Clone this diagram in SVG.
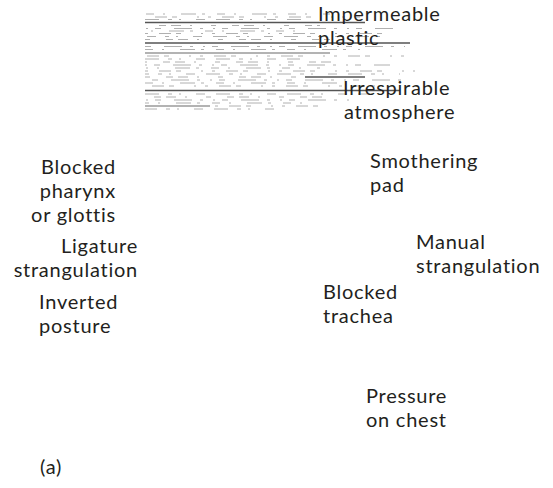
<svg xmlns="http://www.w3.org/2000/svg" width="553" height="488" viewBox="0 0 553 488">
<style>
.t{font-family:Lato,"Open Sans","Liberation Sans",sans-serif;font-size:20px;letter-spacing:0.75px;fill:#231f20}
.r{text-anchor:end}
.h{stroke:#b0b0b0;stroke-width:1;fill:none}
.d{stroke:#555;stroke-width:1.3;fill:none}
.g{stroke:#9a9a9a;stroke-width:1.6;fill:none}
</style>
<rect width="553" height="488" fill="#fff"/>
<g id="hatch">
<line class="h" x1="146" y1="14" x2="330" y2="14" stroke-dasharray="8 9 2 16 15 6 3 12"/>
<line class="h" x1="145" y1="17" x2="360" y2="17" stroke-dasharray="3 11 12 5 5 20 2 9" stroke-dashoffset="4"/>
<line class="h" x1="145" y1="19.5" x2="310" y2="19.5" stroke-dasharray="14 9 4 7 2 15 9 11"/>
<line class="d" x1="145" y1="22.5" x2="365" y2="22.5"/>
<line class="h" x1="145" y1="25.5" x2="320" y2="25.5" stroke-dasharray="5 16 7 5 10 9 2 19" stroke-dashoffset="7"/>
<line class="h" x1="146" y1="28.5" x2="395" y2="28.5" stroke-dasharray="2 7 6 13 18 8 3 10"/>
<line class="h" x1="145" y1="31" x2="300" y2="31" stroke-dasharray="8 9 2 16 15 6 3 12" stroke-dashoffset="11"/>
<line class="h" x1="145" y1="33.5" x2="400" y2="33.5" stroke-dasharray="3 11 12 5 5 20 2 9"/>
<line class="h" x1="147" y1="36.5" x2="380" y2="36.5" stroke-dasharray="14 9 4 7 2 15 9 11" stroke-dashoffset="5"/>
<line class="h" x1="145" y1="39.5" x2="330" y2="39.5" stroke-dasharray="5 16 7 5 10 9 2 19"/>
<line class="d" x1="145" y1="43" x2="410" y2="43"/>
<line class="h" x1="145" y1="46.5" x2="405" y2="46.5" stroke-dasharray="2 7 6 13 18 8 3 10" stroke-dashoffset="9"/>
<line class="h" x1="145" y1="49.5" x2="360" y2="49.5" stroke-dasharray="8 9 2 16 15 6 3 12"/>
<line class="g" x1="145" y1="53" x2="330" y2="53"/>
<line class="h" x1="146" y1="56" x2="410" y2="56" stroke-dasharray="3 11 12 5 5 20 2 9" stroke-dashoffset="13"/>
<line class="h" x1="145" y1="59" x2="300" y2="59" stroke-dasharray="14 9 4 7 2 15 9 11"/>
<line class="h" x1="145" y1="62" x2="340" y2="62" stroke-dasharray="5 16 7 5 10 9 2 19" stroke-dashoffset="3"/>
<line class="h" x1="145" y1="65" x2="390" y2="65" stroke-dasharray="2 7 6 13 18 8 3 10"/>
<line class="h" x1="146" y1="68" x2="320" y2="68" stroke-dasharray="8 9 2 16 15 6 3 12" stroke-dashoffset="6"/>
<line class="h" x1="145" y1="71" x2="415" y2="71" stroke-dasharray="3 11 12 5 5 20 2 9"/>
<line class="h" x1="145" y1="74" x2="400" y2="74" stroke-dasharray="14 9 4 7 2 15 9 11" stroke-dashoffset="10"/>
<line class="h" x1="145" y1="77" x2="300" y2="77" stroke-dasharray="5 16 7 5 10 9 2 19"/>
<line class="d" x1="305" y1="77" x2="365" y2="77"/>
<line class="h" x1="145" y1="80" x2="410" y2="80" stroke-dasharray="2 7 6 13 18 8 3 10" stroke-dashoffset="2"/>
<line class="h" x1="145" y1="83" x2="340" y2="83" stroke-dasharray="8 9 2 16 15 6 3 12"/>
<line class="h" x1="146" y1="86" x2="390" y2="86" stroke-dasharray="3 11 12 5 5 20 2 9" stroke-dashoffset="8"/>
<line class="d" x1="145" y1="90.5" x2="400" y2="90.5"/>
<line class="h" x1="145" y1="94" x2="370" y2="94" stroke-dasharray="14 9 4 7 2 15 9 11"/>
<line class="h" x1="145" y1="97" x2="330" y2="97" stroke-dasharray="5 16 7 5 10 9 2 19" stroke-dashoffset="12"/>
<line class="h" x1="146" y1="100" x2="350" y2="100" stroke-dasharray="2 7 6 13 18 8 3 10"/>
<line class="h" x1="145" y1="103" x2="310" y2="103" stroke-dasharray="8 9 2 16 15 6 3 12" stroke-dashoffset="4"/>
<line class="g" x1="145" y1="106" x2="210" y2="106"/>
<line class="h" x1="215" y1="106" x2="330" y2="106" stroke-dasharray="3 11 12 5 5 20 2 9"/>
<line class="h" x1="145" y1="109" x2="280" y2="109" stroke-dasharray="14 9 4 7 2 15 9 11" stroke-dashoffset="2"/>
</g>
<g id="impermeable"><text class="t" x="318" y="21">Impermeable</text><text class="t" x="318" y="45">plastic</text></g>
<g id="irrespirable"><text class="t" x="343" y="95">Irrespirable</text><text class="t" x="344" y="119">atmosphere</text></g>
<g id="pharynx"><text class="t r" x="116" y="174">Blocked</text><text class="t r" x="116" y="198">pharynx</text><text class="t r" x="116" y="222">or glottis</text></g>
<g id="ligature"><text class="t r" x="138" y="253">Ligature</text><text class="t r" x="138" y="277">strangulation</text></g>
<g id="inverted"><text class="t" x="39" y="309">Inverted</text><text class="t" x="39" y="333">posture</text></g>
<g id="smothering"><text class="t" x="370" y="168">Smothering</text><text class="t" x="370" y="192">pad</text></g>
<g id="manual"><text class="t" x="416" y="249">Manual</text><text class="t" x="416" y="273">strangulation</text></g>
<g id="trachea"><text class="t" x="323" y="299">Blocked</text><text class="t" x="323" y="323">trachea</text></g>
<g id="chest"><text class="t" x="366" y="403">Pressure</text><text class="t" x="366" y="427">on chest</text></g>
<g id="label"><text class="t" x="40" y="474">(a)</text></g>
<g id="connectors"></g>
</svg>
